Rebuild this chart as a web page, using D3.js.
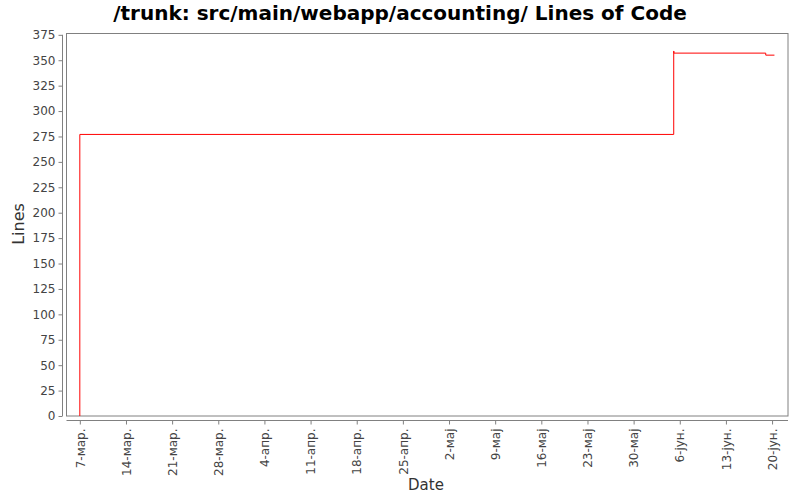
<!DOCTYPE html>
<html>
<head>
<meta charset="utf-8">
<script src="https://cdn.jsdelivr.net/npm/d3@7"></script>
<style>
  body { margin: 0; background: #fff; }
  text { font-family: "DejaVu Sans", sans-serif; }
</style>
</head>
<body>
<svg id="chart" width="800" height="500"></svg>
<script>
// Lines of code over time (step chart)
const dates = [
  "2010-03-07T00:00", "2010-03-07T00:00",
  "2010-06-05T02:00", "2010-06-05T02:30",
  "2010-06-19T01:00", "2010-06-20T08:40"
];
const lines = [0, 277, 359, 357, 355, 355];

const tickDates = [
  "2010-03-07", "2010-03-14", "2010-03-21", "2010-03-28", "2010-04-04",
  "2010-04-11", "2010-04-18", "2010-04-25", "2010-05-02", "2010-05-09",
  "2010-05-16", "2010-05-23", "2010-05-30", "2010-06-06", "2010-06-13", "2010-06-20"
];
const tickLabels = [
  "7-мар.", "14-мар.", "21-мар.", "28-мар.", "4-апр.", "11-апр.", "18-апр.",
  "25-апр.", "2-мај", "9-мај", "16-мај", "23-мај", "30-мај", "6-јун.", "13-јун.", "20-јун."
];
const yTicks = d3.range(0, 376, 25);

const parse = d3.isoParse;
const series = dates.map((d, i) => ({ date: parse(d), value: lines[i] }));

const svg = d3.select("#chart");
const plot = { left: 66.5, right: 788, top: 33.5, bottom: 416 };

const x = d3.scaleTime()
  .domain([parse("2010-03-04T23:30"), parse("2010-06-22T10:00")])
  .range([plot.left, plot.right]);

const y = d3.scaleLinear()
  .domain([0, 376.3])
  .range([plot.bottom, plot.top]);

// Title
svg.append("text")
  .attr("x", 400)
  .attr("y", 20)
  .attr("text-anchor", "middle")
  .style("font-size", "20px")
  .style("font-weight", "bold")
  .attr("fill", "#000")
  .text("/trunk: src/main/webapp/accounting/ Lines of Code");

// Plot frame
svg.append("rect")
  .attr("x", plot.left)
  .attr("y", plot.top)
  .attr("width", plot.right - plot.left)
  .attr("height", plot.bottom - plot.top)
  .attr("fill", "#fff")
  .attr("stroke", "#808080")
  .attr("stroke-width", 1);

// Y axis
const yAxis = svg.append("g")
  .attr("transform", `translate(62.5,0)`)
  .call(d3.axisLeft(y).tickValues(yTicks).tickSize(4).tickPadding(3));
yAxis.select(".domain").attr("stroke", "#808080").attr("d", `M0,${y(375)}V${plot.bottom}`);
yAxis.selectAll(".tick line").attr("stroke", "#808080");
yAxis.selectAll(".tick text").attr("fill", "#444").style("font-size", "12px");

// X axis
const xAxis = svg.append("g")
  .attr("transform", `translate(0,420.5)`)
  .call(d3.axisBottom(x)
    .tickValues(tickDates.map(d => parse(d)))
    .tickFormat((d, i) => tickLabels[i])
    .tickSize(4));
xAxis.select(".domain").attr("stroke", "#808080").attr("d", `M${plot.left},0H${plot.right}`);
xAxis.selectAll(".tick line").attr("stroke", "#808080");
xAxis.selectAll(".tick text")
  .attr("fill", "#444")
  .style("font-size", "12px")
  .attr("text-anchor", "end")
  .attr("transform", "rotate(-90)")
  .attr("x", -8)
  .attr("y", 0)
  .attr("dy", "0.35em");

// Axis labels
svg.append("text")
  .attr("x", 426)
  .attr("y", 490)
  .attr("text-anchor", "middle")
  .attr("fill", "#333")
  .style("font-size", "15px")
  .text("Date");

svg.append("text")
  .attr("transform", "translate(24,224) rotate(-90)")
  .attr("text-anchor", "middle")
  .attr("fill", "#333")
  .style("font-size", "16px")
  .text("Lines");

// Line
const line = d3.line()
  .x(d => x(d.date))
  .y(d => y(d.value))
  .curve(d3.curveStepAfter);

svg.append("path")
  .datum(series)
  .attr("d", line)
  .attr("fill", "none")
  .attr("stroke", "#ff0000")
  .attr("stroke-width", 1);
</script>
</body>
</html>
